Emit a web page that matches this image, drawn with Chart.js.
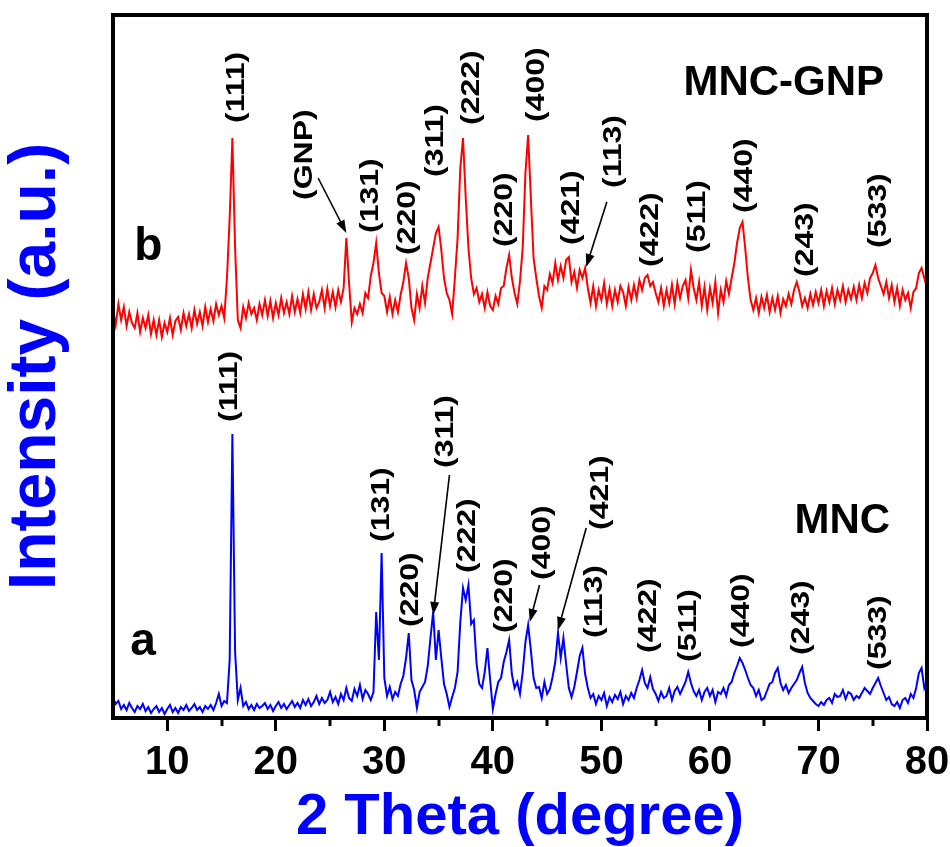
<!DOCTYPE html>
<html>
<head>
<meta charset="utf-8">
<script src="https://cdn.jsdelivr.net/npm/chart.js@4.4.1/dist/chart.umd.min.js"></script>
<style>
  html, body { margin: 0; padding: 0; background: #fff; }
  canvas { display: block; }
</style>
</head>
<body>
<canvas id="xrd" width="950" height="847"></canvas>
<script>
// 2 theta sampling (degree)
const theta = [
  5, 5.25, 5.5, 5.75, 6, 6.25, 6.5, 6.75, 7, 7.25, 7.5, 7.75, 8, 8.25, 8.5, 8.75, 9, 9.25, 9.5, 9.75,
  10, 10.25, 10.5, 10.75, 11, 11.25, 11.5, 11.75, 12, 12.25, 12.5, 12.75, 13, 13.25, 13.5, 13.75, 14, 14.25, 14.5, 14.75,
  15, 15.25, 15.5, 15.75, 16, 16.25, 16.5, 16.75, 17, 17.25, 17.5, 17.75, 18, 18.25, 18.5, 18.75, 19, 19.25, 19.5, 19.75,
  20, 20.25, 20.5, 20.75, 21, 21.25, 21.5, 21.75, 22, 22.25, 22.5, 22.75, 23, 23.25, 23.5, 23.75, 24, 24.25, 24.5, 24.75,
  25, 25.25, 25.5, 25.75, 26, 26.25, 26.5, 26.75, 27, 27.25, 27.5, 27.75, 28, 28.25, 28.5, 28.75, 29, 29.25, 29.5, 29.75,
  30, 30.25, 30.5, 30.75, 31, 31.25, 31.5, 31.75, 32, 32.25, 32.5, 32.75, 33, 33.25, 33.5, 33.75, 34, 34.25, 34.5, 34.75,
  35, 35.25, 35.5, 35.75, 36, 36.25, 36.5, 36.75, 37, 37.25, 37.5, 37.75, 38, 38.25, 38.5, 38.75, 39, 39.25, 39.5, 39.75,
  40, 40.25, 40.5, 40.75, 41, 41.25, 41.5, 41.75, 42, 42.25, 42.5, 42.75, 43, 43.25, 43.5, 43.75, 44, 44.25, 44.5, 44.75,
  45, 45.25, 45.5, 45.75, 46, 46.25, 46.5, 46.75, 47, 47.25, 47.5, 47.75, 48, 48.25, 48.5, 48.75, 49, 49.25, 49.5, 49.75,
  50, 50.25, 50.5, 50.75, 51, 51.25, 51.5, 51.75, 52, 52.25, 52.5, 52.75, 53, 53.25, 53.5, 53.75, 54, 54.25, 54.5, 54.75,
  55, 55.25, 55.5, 55.75, 56, 56.25, 56.5, 56.75, 57, 57.25, 57.5, 57.75, 58, 58.25, 58.5, 58.75, 59, 59.25, 59.5, 59.75,
  60, 60.25, 60.5, 60.75, 61, 61.25, 61.5, 61.75, 62, 62.25, 62.5, 62.75, 63, 63.25, 63.5, 63.75, 64, 64.25, 64.5, 64.75,
  65, 65.25, 65.5, 65.75, 66, 66.25, 66.5, 66.75, 67, 67.25, 67.5, 67.75, 68, 68.25, 68.5, 68.75, 69, 69.25, 69.5, 69.75,
  70, 70.25, 70.5, 70.75, 71, 71.25, 71.5, 71.75, 72, 72.25, 72.5, 72.75, 73, 73.25, 73.5, 73.75, 74, 74.25, 74.5, 74.75,
  75, 75.25, 75.5, 75.75, 76, 76.25, 76.5, 76.75, 77, 77.25, 77.5, 77.75, 78, 78.25, 78.5, 78.75, 79, 79.25, 79.5, 79.75,
  80
];

// (a) MNC
const intensityMNC = [
  20, 14, 17, 9, 13, 8, 15, 10, 6, 12, 9, 14, 7, 11, 5, 9, 12, 6, 10, 4,
  9, 13, 6, 10, 5, 11, 8, 13, 7, 10, 14, 8, 11, 6, 12, 9, 13, 8, 15, 24,
  12, 17, 15, 58, 284, 66, 18, 30, 12, 16, 9, 13, 8, 14, 10, 12, 15, 9, 13, 7,
  12, 16, 10, 14, 9, 13, 17, 11, 15, 10, 18, 13, 19, 12, 16, 22, 14, 20, 15, 18,
  26, 16, 21, 14, 24, 18, 30, 20, 17, 29, 22, 33, 19, 28, 24, 18, 26, 106, 58, 165,
  40, 22, 31, 19, 26, 22, 34, 42, 60, 85, 38, 28, 10, 26, 31, 36, 52, 80, 106, 58,
  88, 60, 34, 24, 11, 21, 30, 46, 96, 130, 118, 133, 94, 98, 54, 34, 30, 46, 70, 38,
  9, 24, 36, 40, 56, 66, 78, 44, 30, 36, 24, 46, 76, 93, 68, 40, 30, 31, 20, 36,
  24, 29, 41, 56, 85, 60, 80, 54, 30, 21, 31, 46, 62, 70, 44, 30, 20, 24, 14, 22,
  18, 25, 12, 21, 16, 23, 19, 26, 14, 22, 18, 25, 20, 30, 38, 48, 35, 30, 41, 29,
  24, 17, 26, 20, 22, 30, 18, 27, 31, 24, 30, 36, 46, 35, 27, 22, 28, 18, 26, 30,
  22, 28, 16, 26, 24, 30, 22, 33, 36, 45, 52, 60, 55, 48, 40, 33, 30, 22, 28, 18,
  20, 27, 34, 36, 45, 50, 35, 28, 33, 25, 30, 34, 38, 45, 51, 35, 25, 20, 17, 14,
  12, 16, 13, 18, 20, 15, 24, 21, 22, 28, 19, 26, 24, 18, 22, 20, 25, 30, 27, 24,
  30, 35, 40, 32, 25, 18, 21, 14, 12, 16, 10, 18, 20, 15, 24, 20, 30, 45, 50, 30,
  38
];

// (b) MNC-GNP
const intensityMNCGNP = [
  408, 393, 414, 398, 411, 392, 406, 395, 390, 405, 386, 400, 390, 403, 384, 398, 383, 398, 381, 395,
  386, 400, 383, 397, 401, 388, 405, 392, 404, 390, 408, 394, 406, 392, 411, 396, 409, 397, 414, 403,
  412, 400, 440, 500, 580, 470, 398, 390, 411, 400, 415, 404, 410, 398, 414, 403, 418, 402, 417, 400,
  415, 403, 420, 405, 416, 404, 422, 406, 419, 405, 424, 409, 426, 408, 424, 410, 416, 428, 410, 429,
  412, 426, 411, 428, 416, 430, 480, 435, 396, 410, 404, 414, 405, 425, 420, 442, 455, 475, 445, 425,
  422, 406, 421, 404, 418, 406, 423, 436, 455, 440, 410, 398, 424, 410, 432, 415, 440, 455, 470, 485,
  491, 468, 440, 425, 418, 404, 440, 480, 550, 580, 520, 470, 440, 424, 430, 416, 424, 410, 426, 412,
  408, 422, 414, 430, 432, 450, 463, 440, 425, 414, 437, 470, 545, 583, 520, 460, 440, 422, 410, 432,
  428, 444, 435, 455, 438, 452, 440, 458, 461, 436, 446, 430, 448, 440, 450, 430, 415, 432, 412, 428,
  418, 435, 414, 429, 412, 428, 416, 432, 426, 412, 431, 418, 433, 420, 438, 428, 440, 443, 432, 436,
  425, 416, 430, 412, 428, 415, 433, 414, 435, 420, 432, 438, 420, 448, 430, 418, 436, 412, 431, 408,
  430, 415, 436, 405, 428, 416, 437, 424, 440, 455, 475, 490, 496, 470, 440, 418, 408, 420, 405, 421,
  410, 423, 406, 420, 408, 422, 405, 419, 412, 424, 414, 428, 436, 426, 412, 420, 410, 424, 413, 426,
  415, 428, 412, 427, 416, 430, 414, 428, 418, 432, 416, 428, 419, 431, 418, 433, 420, 435, 425, 440,
  445, 453, 440, 432, 424, 436, 420, 433, 416, 430, 412, 428, 418, 425, 410, 426, 430, 445, 450, 440,
  430
];

const xTicks = [10, 20, 30, 40, 50, 60, 70, 80];
const xMinorTicks = [15, 25, 35, 45, 55, 65, 75];

// Miller index labels: [text, 2theta, intensity at the start of the text]
const labelsMNCGNP = [
  ['(111)', 16.4, 595], ['(GNP)', 22.7, 518], ['(131)', 28.8, 485], ['(220)', 32.2, 463],
  ['(311)', 34.8, 541], ['(222)', 38.1, 593], ['(220)', 41.1, 471], ['(400)', 44.1, 596],
  ['(421)', 47.3, 473], ['(113)', 51.2, 530], ['(422)', 54.6, 451], ['(511)', 58.9, 465],
  ['(440)', 63.2, 505], ['(243)', 68.9, 441], ['(533)', 75.6, 470]
];
const labelsMNC = [
  ['(111)', 15.8, 296], ['(131)', 29.8, 176], ['(220)', 32.5, 91], ['(311)', 35.7, 250],
  ['(222)', 37.7, 145], ['(220)', 41.1, 85], ['(400)', 44.6, 138], ['(421)', 50.0, 188],
  ['(113)', 49.4, 80], ['(422)', 54.4, 65], ['(511)', 58.1, 56], ['(440)', 63.0, 70],
  ['(243)', 68.5, 63], ['(533)', 75.6, 48]
];
// arrows: [from 2theta, from intensity, to 2theta, to intensity]
const arrows = [
  [23.9, 540, 26.5, 485], [50.5, 516, 48.6, 451],
  [36.0, 243, 34.5, 103], [44.3, 133, 43.4, 96], [48.6, 190, 46.0, 88]
];
// sample names and letters: [text, 2theta, intensity, align, font size]
const sampleTexts = [
  ['MNC-GNP', 66.8, 635, 'center', 42], ['MNC', 72.2, 197, 'center', 42],
  ['b', 6.95, 458, 'left', 46], ['a', 6.6, 63, 'left', 46]
];

const FONT = "'Liberation Sans', Arial, sans-serif";

const decor = {
  id: 'decor',
  afterDatasetsDraw(chart) {
    const { ctx, scales: { x, y } } = chart;
    ctx.save();
    ctx.fillStyle = '#000';
    ctx.font = 'bold 25px ' + FONT;
    ctx.textAlign = 'left';
    ctx.textBaseline = 'middle';
    [...labelsMNCGNP, ...labelsMNC].forEach(([t, tx, ty]) => {
      ctx.save();
      ctx.translate(x.getPixelForValue(tx), y.getPixelForValue(ty));
      ctx.rotate(-Math.PI / 2);
      ctx.scale(1.28, 1);
      ctx.fillText(t, 0, 0);
      ctx.restore();
    });
    ctx.strokeStyle = '#000';
    ctx.lineWidth = 1.6;
    arrows.forEach(([x0, y0, x1, y1]) => {
      const px0 = x.getPixelForValue(x0), py0 = y.getPixelForValue(y0);
      const px1 = x.getPixelForValue(x1), py1 = y.getPixelForValue(y1);
      const ang = Math.atan2(py1 - py0, px1 - px0);
      const hl = 13, hw = 4.5;
      ctx.beginPath();
      ctx.moveTo(px0, py0);
      ctx.lineTo(px1 - Math.cos(ang) * hl * 0.8, py1 - Math.sin(ang) * hl * 0.8);
      ctx.stroke();
      ctx.beginPath();
      ctx.moveTo(px1, py1);
      ctx.lineTo(px1 - Math.cos(ang) * hl - Math.sin(ang) * hw, py1 - Math.sin(ang) * hl + Math.cos(ang) * hw);
      ctx.lineTo(px1 - Math.cos(ang) * hl + Math.sin(ang) * hw, py1 - Math.sin(ang) * hl - Math.cos(ang) * hw);
      ctx.closePath();
      ctx.fill();
    });
    sampleTexts.forEach(([t, tx, ty, al, sz]) => {
      ctx.font = 'bold ' + sz + 'px ' + FONT;
      ctx.textAlign = al;
      ctx.textBaseline = al === 'left' ? 'alphabetic' : 'middle';
      ctx.fillText(t, x.getPixelForValue(tx), y.getPixelForValue(ty));
    });
    ctx.restore();
  },
  afterDraw(chart) {
    const { ctx, chartArea: a, scales: { x } } = chart;
    ctx.save();
    ctx.strokeStyle = '#000';
    ctx.lineWidth = 3;
    xMinorTicks.forEach(v => {
      const px = Math.round(x.getPixelForValue(v));
      ctx.beginPath();
      ctx.moveTo(px, a.bottom);
      ctx.lineTo(px, a.bottom + 8);
      ctx.stroke();
    });
    ctx.lineWidth = 4;
    ctx.strokeRect(a.left, a.top, a.right - a.left, a.bottom - a.top);
    ctx.restore();
  }
};

new Chart(document.getElementById('xrd'), {
  type: 'line',
  data: {
    datasets: [
      {
        label: 'MNC-GNP',
        data: theta.map((t, i) => ({ x: t, y: intensityMNCGNP[i] })),
        borderColor: '#ff0000',
        borderWidth: 2,
        pointRadius: 0,
        tension: 0
      },
      {
        label: 'MNC',
        data: theta.map((t, i) => ({ x: t, y: intensityMNC[i] })),
        borderColor: '#0000ff',
        borderWidth: 2,
        pointRadius: 0,
        tension: 0
      }
    ]
  },
  options: {
    responsive: false,
    animation: false,
    devicePixelRatio: 1,
    layout: { padding: { top: 15, right: 23, bottom: 0, left: 0 } },
    plugins: { legend: { display: false }, tooltip: { enabled: false } },
    scales: {
      x: {
        type: 'linear',
        min: 5,
        max: 80,
        afterBuildTicks: s => { s.ticks = xTicks.map(v => ({ value: v })); },
        afterFit: s => { s.height = 129; s.paddingLeft = 0; s.paddingRight = 0; },
        border: { display: false },
        grid: { drawOnChartArea: false, tickLength: 13, tickWidth: 3, tickColor: '#000' },
        ticks: {
          padding: 8,
          color: '#000',
          maxRotation: 0,
          font: { family: FONT, size: 40, weight: 'bold' }
        },
        title: {
          display: true,
          text: '2 Theta (degree)',
          color: '#0000ff',
          padding: 0,
          font: { family: FONT, size: 58, weight: 'bold', lineHeight: 1 }
        }
      },
      y: {
        min: 0,
        max: 703,
        afterFit: s => { s.width = 113; },
        border: { display: false },
        grid: { display: false },
        ticks: { display: false },
        title: {
          display: true,
          text: 'Intensity (a.u.)',
          color: '#0000ff',
          padding: { top: 4, bottom: 0 },
          font: { family: FONT, size: 66, weight: 'bold', lineHeight: 1 }
        }
      }
    }
  },
  plugins: [decor]
});
</script>
</body>
</html>
